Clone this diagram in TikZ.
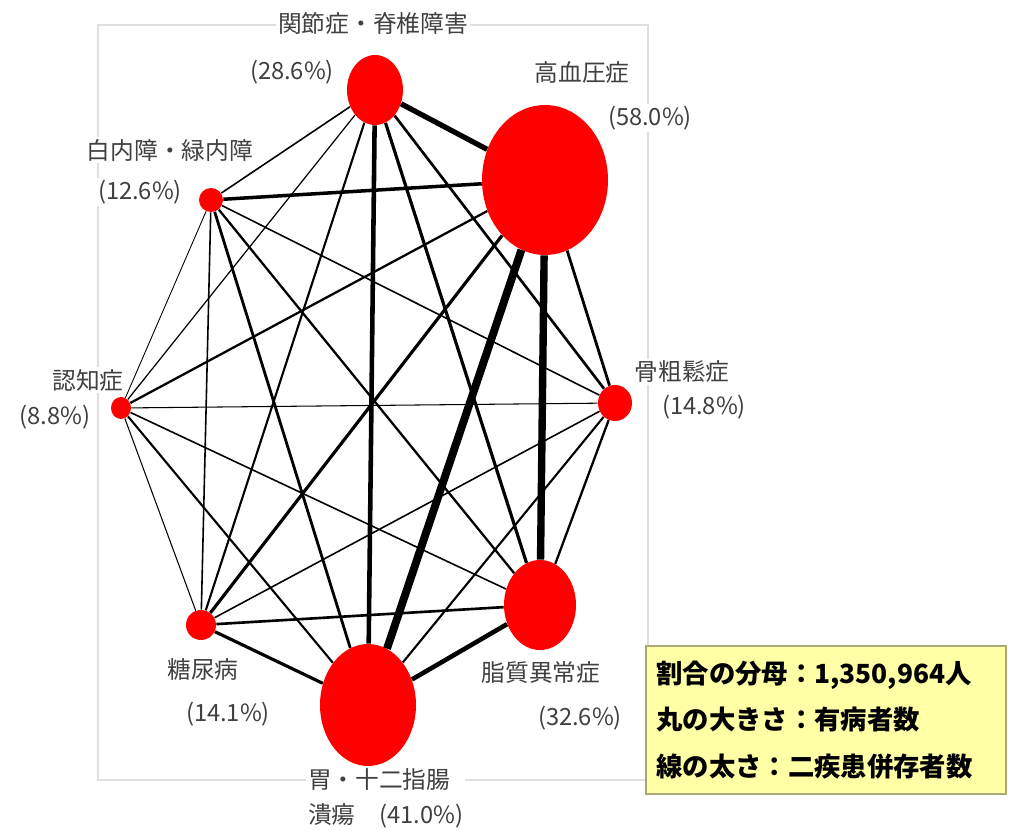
\documentclass[tikz,border=0pt]{standalone}
\usepackage{fontspec}
\setmainfont{Noto Sans CJK JP}
\usetikzlibrary{shapes.geometric}
\definecolor{memo}{HTML}{FFFFA6}
\definecolor{memoline}{HTML}{A8A878}
\newcommand{\dnode}[4]{\node [dis, minimum width=#3, minimum height=#4] (#1) at (#2) {}}
\newcommand{\lnode}[3]{\node [lbl] (#1) at (#2) {#3}}

\begin{document}
\begin{tikzpicture}[x=0.02cm, y=-0.02cm,
  dis/.style={ellipse, fill=red, inner sep=0pt},
  lbl/.style={fill=white, inner sep=1pt, text=black!75, font=\fontsize{13.5}{16}\selectfont},
  memobox/.style={draw=memoline, line width=1.2pt, fill=memo}]

\useasboundingbox (0,0) rectangle (1011,831);
\draw[gray!25, line width=1.2pt] (98,25) rectangle (648,780);

\dnode{A}{375,90}{1.12cm}{1.4cm};
\dnode{H}{545,180}{2.52cm}{3.0cm};
\dnode{W}{211,200}{0.48cm}{0.48cm};
\dnode{N}{121,408}{0.4cm}{0.44cm};
\dnode{K}{615,403}{0.68cm}{0.72cm};
\dnode{D}{201,625}{0.6cm}{0.6cm};
\dnode{S}{540,605}{1.44cm}{1.8cm};
\dnode{I}{368,705}{1.92cm}{2.44cm};

% edges, width = number of patients with both diseases
\foreach \a/\b/\w in {H/I/4.5, H/S/4.2, A/H/3.0, A/I/2.6, I/S/2.6,
    W/H/2.0, H/D/1.8, A/S/1.8, D/I/1.8, D/S/1.5, W/I/1.6, H/K/1.6,
    A/K/1.5, K/S/1.3, K/I/1.2, A/D/1.2, H/N/1.3, N/I/1.2, W/S/1.3,
    A/W/0.9, A/N/0.7, W/K/0.9, N/S/0.9, N/D/0.6, W/D/0.9, N/K/0.6,
    D/K/0.9, W/N/0.5}
  \draw[line width=\w pt] (\a) -- (\b);

\lnode{lA}{373,23}{関節症・脊椎障害};
\lnode{pA}{292,72}{(28.6\%)};
\lnode{lH}{582,73}{高血圧症};
\lnode{pH}{650,118}{(58.0\%)};
\lnode{lW}{170,150}{白内障・緑内障};
\lnode{pW}{140,192}{(12.6\%)};
\lnode{lN}{88,380}{認知症};
\lnode{pN}{55,417}{(8.8\%)};
\lnode{lK}{682,372}{骨粗鬆症};
\lnode{pK}{704,407}{(14.8\%)};
\lnode{lD}{203,669}{糖尿病};
\lnode{pD}{228,714}{(14.1\%)};
\lnode{lS}{541,673}{脂質異常症};
\lnode{pS}{580,718}{(32.6\%)};
\node[lbl, anchor=north west, align=left, font=\fontsize{13.5}{20}\selectfont] (lI) at (306,766) {胃・十二指腸\\潰瘍　(41.0\%)};

\node[memobox, anchor=north west, minimum width=7.2cm, minimum height=2.96cm] (memo) at (645,645) {};
\node[anchor=west, align=left, font=\fontsize{15}{26.5}\selectfont\bfseries, inner sep=0pt] (memotext) at ([xshift=0.22cm]memo.west)
  {割合の分母：1,350,964人\\丸の大きさ：有病者数\\線の太さ：二疾患併存者数};

\end{tikzpicture}
\end{document}
